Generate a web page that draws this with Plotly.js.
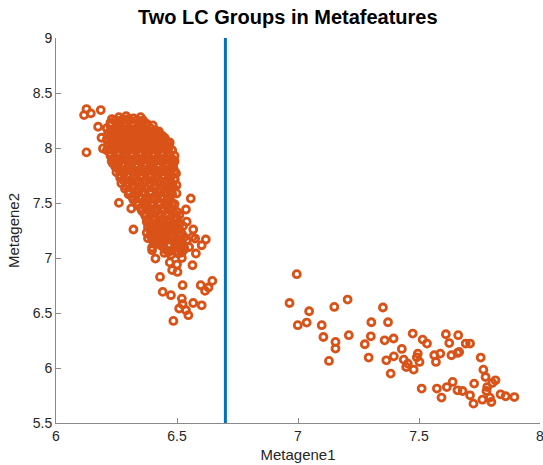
<!DOCTYPE html>
<html>
<head>
<meta charset="utf-8">
<script src="https://cdn.plot.ly/plotly-3.0.1.min.js"></script>
<style>html,body{margin:0;padding:0;background:#fff;}#chart{width:543px;height:465px;}</style>
</head>
<body>
<div id="chart"></div>
<script>
// Group 1 (left cluster): Metagene1 values
const group1X = [
6.26,6.29,6.32,6.35,
6.225,6.255,6.285,6.315,6.345,6.375,
6.21,6.24,6.27,6.30,6.33,6.36,6.39,6.41,
6.215,6.245,6.275,6.305,6.335,6.365,6.395,6.425,6.44,
6.21,6.24,6.27,6.30,6.33,6.36,6.39,6.42,6.45,
6.215,6.245,6.275,6.305,6.335,6.365,6.395,6.425,6.455,6.47,
6.21,6.24,6.27,6.30,6.33,6.36,6.39,6.42,6.45,6.48,
6.225,6.255,6.285,6.315,6.345,6.375,6.405,6.435,6.465,6.49,
6.23,6.26,6.29,6.32,6.35,6.38,6.41,6.44,6.47,6.49,
6.245,6.275,6.305,6.335,6.365,6.395,6.425,6.455,6.485,
6.25,6.28,6.31,6.34,6.37,6.40,6.43,6.46,6.49,
6.265,6.295,6.325,6.355,6.385,6.415,6.445,6.475,6.49,
6.27,6.30,6.33,6.36,6.39,6.42,6.45,6.48,
6.285,6.315,6.345,6.375,6.405,6.435,6.465,6.485,
6.30,6.33,6.36,6.39,6.42,6.45,6.48,
6.32,6.35,6.38,6.41,6.44,6.47,
6.34,6.37,6.40,6.43,6.46,6.49,
6.355,6.385,6.415,6.445,6.475,6.50,
6.37,6.40,6.43,6.46,6.49,6.51,
6.375,6.405,6.435,6.465,6.495,
6.38,6.41,6.44,6.47,6.50,6.525,
6.375,6.405,6.435,6.465,6.495,6.52,
6.38,6.41,6.44,6.47,6.50,6.53,
6.405,6.435,6.465,6.495,6.525,
6.45,6.48,6.51,6.53,
6.475,6.505,
6.126,6.116,6.144,6.185,6.174,6.231,6.297,6.188,6.126,6.194,6.235,
6.260,6.311,6.320,6.557,6.537,6.496,6.498,6.498,6.567,6.619,6.575,
6.397,6.397,6.485,6.397,6.411,6.448,6.564,6.602,6.578,6.502,6.564,
6.430,6.523,6.598,6.646,6.630,6.616,6.441,6.475,6.520,6.523,6.567,
6.602,6.537,6.547,6.485,6.509,
6.54,6.53,6.52,6.47,6.50,6.48,6.43,6.54,6.55,6.475,6.49,6.468
];
// Group 1 (left cluster): Metagene2 values
const group1Y = [
8.28,8.29,8.27,8.28,
8.23,8.24,8.22,8.23,8.24,8.22,
8.18,8.17,8.19,8.18,8.17,8.19,8.18,8.16,
8.13,8.14,8.12,8.13,8.14,8.12,8.13,8.14,8.11,
8.08,8.07,8.09,8.08,8.07,8.09,8.08,8.07,8.09,
8.03,8.04,8.02,8.03,8.04,8.02,8.03,8.04,8.02,8.05,
7.98,7.97,7.99,7.98,7.97,7.99,7.98,7.97,7.99,7.98,
7.93,7.94,7.92,7.93,7.94,7.92,7.93,7.94,7.92,7.93,
7.88,7.87,7.89,7.88,7.87,7.89,7.88,7.87,7.89,7.88,
7.83,7.84,7.82,7.83,7.84,7.82,7.83,7.84,7.82,
7.78,7.77,7.79,7.78,7.77,7.79,7.78,7.77,7.79,
7.73,7.74,7.72,7.73,7.74,7.72,7.73,7.74,7.72,
7.68,7.67,7.69,7.68,7.67,7.69,7.68,7.67,
7.63,7.64,7.62,7.63,7.64,7.62,7.63,7.64,
7.58,7.57,7.59,7.58,7.57,7.59,7.58,
7.53,7.54,7.52,7.53,7.54,7.52,
7.48,7.47,7.49,7.48,7.47,7.49,
7.43,7.44,7.42,7.43,7.44,7.42,
7.38,7.37,7.39,7.38,7.37,7.39,
7.33,7.34,7.32,7.33,7.34,
7.28,7.27,7.29,7.28,7.27,7.29,
7.23,7.24,7.22,7.23,7.24,7.22,
7.18,7.17,7.19,7.18,7.17,7.19,
7.13,7.14,7.12,7.13,7.12,
7.08,7.07,7.09,7.08,
7.03,7.04,
8.354,8.299,8.315,8.345,8.193,8.263,8.263,8.093,7.960,7.996,7.860,
7.501,7.450,7.259,7.541,7.441,7.769,7.662,7.587,7.259,7.168,7.177,
7.168,7.096,7.860,7.071,6.995,7.046,7.192,7.116,7.041,6.873,6.934,
6.828,6.753,6.753,6.792,6.732,6.701,6.692,6.662,6.631,6.580,6.591,
6.570,6.525,6.480,6.428,6.541,
7.16,7.09,7.00,6.96,6.94,6.89,7.12,7.33,7.10,7.89,7.71,8.04
];
// Group 1 dense core, in-between points (Metagene1)
const group1CoreX = [
6.245,6.275,6.305,6.335,6.36,
6.225,6.255,6.285,6.315,6.345,6.375,6.40,
6.225,6.255,6.285,6.315,6.345,6.375,6.405,6.425,
6.225,6.255,6.285,6.315,6.345,6.375,6.405,6.435,
6.225,6.255,6.285,6.315,6.345,6.375,6.405,6.435,6.46,
6.225,6.255,6.285,6.315,6.345,6.375,6.405,6.435,6.465,
6.225,6.255,6.285,6.315,6.345,6.375,6.405,6.435,6.465,
6.24,6.27,6.30,6.33,6.36,6.39,6.42,6.45,6.48,
6.245,6.275,6.305,6.335,6.365,6.395,6.425,6.455,6.48,
6.26,6.29,6.32,6.35,6.38,6.41,6.44,6.47,
6.265,6.295,6.325,6.355,6.385,6.415,6.445,6.475,
6.28,6.31,6.34,6.37,6.40,6.43,6.46,
6.29,6.32,6.35,6.38,6.41,6.44,6.47,
6.30,6.33,6.36,6.39,6.42,6.45,6.47,
6.315,6.345,6.375,6.405,6.435,6.465,
6.335,6.365,6.395,6.425,6.455,6.48,
6.35,6.38,6.41,6.44,6.47,
6.365,6.395,6.425,6.455,6.485,
6.38,6.41,6.44,6.47,6.50,
6.39,6.42,6.45,6.48,6.51,
6.39,6.42,6.45,6.48,6.51,
6.39,6.42,6.45,6.48,6.51,
6.425,6.455,6.485,6.515,
6.44,6.47,6.50,6.525,
6.465,6.495,6.52
];
// Group 1 dense core, in-between points (Metagene2)
const group1CoreY = [
8.255,8.26,8.25,8.255,8.25,
8.205,8.21,8.20,8.205,8.21,8.20,8.205,
8.155,8.16,8.15,8.155,8.16,8.15,8.155,8.15,
8.105,8.11,8.10,8.105,8.11,8.10,8.105,8.11,
8.055,8.06,8.05,8.055,8.06,8.05,8.055,8.06,8.05,
8.005,8.01,8.00,8.005,8.01,8.00,8.005,8.01,8.00,
7.955,7.96,7.95,7.955,7.96,7.95,7.955,7.96,7.95,
7.905,7.91,7.90,7.905,7.91,7.90,7.905,7.91,7.90,
7.855,7.86,7.85,7.855,7.86,7.85,7.855,7.86,7.85,
7.805,7.81,7.80,7.805,7.81,7.80,7.805,7.81,
7.755,7.76,7.75,7.755,7.76,7.75,7.755,7.76,
7.705,7.71,7.70,7.705,7.71,7.70,7.705,
7.655,7.66,7.65,7.655,7.66,7.65,7.655,
7.605,7.61,7.60,7.605,7.61,7.60,7.605,
7.555,7.56,7.55,7.555,7.56,7.55,
7.505,7.51,7.50,7.505,7.51,7.50,
7.455,7.46,7.45,7.455,7.46,
7.405,7.41,7.40,7.405,7.41,
7.355,7.36,7.35,7.355,7.36,
7.305,7.31,7.30,7.305,7.31,
7.255,7.26,7.25,7.255,7.26,
7.205,7.21,7.20,7.205,7.21,
7.155,7.16,7.15,7.155,
7.105,7.11,7.10,7.105,
7.055,7.06,7.05
];
// Group 2 (right cluster): Metagene1 values
const group2X = [
6.995,6.965,7.046,6.999,7.036,7.150,7.205,7.098,7.105,7.155,7.155,7.210,7.128,
7.351,7.303,7.372,7.301,7.276,7.358,7.395,7.292,7.365,7.396,7.429,7.437,7.383,
7.447,7.474,7.515,7.533,7.478,7.495,7.502,7.491,7.611,7.662,7.625,7.693,7.711,
7.563,7.588,7.570,7.634,7.659,7.666,7.755,7.766,7.775,7.803,7.816,7.782,7.511,
7.574,7.593,7.615,7.639,7.659,7.680,7.711,7.728,7.725,7.762,7.793,7.799,7.779,
7.837,7.858,7.894,7.454
];
// Group 2 (right cluster): Metagene2 values
const group2Y = [
6.853,6.591,6.516,6.389,6.413,6.555,6.622,6.389,6.282,6.237,6.177,6.298,6.064,
6.550,6.416,6.416,6.288,6.216,6.252,6.268,6.095,6.070,6.106,6.173,6.076,5.949,
6.009,6.313,6.258,6.222,5.985,6.131,6.055,6.097,6.307,6.298,6.227,6.222,6.222,
6.116,6.131,6.055,6.116,6.137,6.146,6.095,5.985,5.918,5.864,5.888,5.827,5.813,
5.813,5.731,5.827,5.873,5.797,5.791,5.752,5.858,5.676,5.712,5.731,5.691,5.791,
5.761,5.743,5.736,6.040
];
// Separating line
const splitX = 6.7;
const yLimits = [5.5, 9];
const xLimits = [6, 8];
const tickX = [6, 6.5, 7, 7.5, 8];
const tickXText = ['6', '6.5', '7', '7.5', '8'];
const tickY = [5.5, 6, 6.5, 7, 7.5, 8, 8.5, 9];
const tickYText = ['5.5', '6', '6.5', '7', '7.5', '8', '8.5', '9'];

const orange = '#D95319';
const blue = '#0072BD';
const font = 'Liberation Sans, Arial, Helvetica, sans-serif';

const traces = [
  {
    x: group1X.concat(group1CoreX, group2X),
    y: group1Y.concat(group1CoreY, group2Y),
    type: 'scatter', mode: 'markers',
    marker: {symbol: 'circle-open', size: 7, color: orange, line: {color: orange, width: 2.8}},
    hoverinfo: 'skip', showlegend: false
  },
  {
    x: [splitX, splitX],
    y: yLimits,
    type: 'scatter', mode: 'lines',
    line: {color: blue, width: 3},
    hoverinfo: 'skip', showlegend: false
  }
];

const axisCommon = {
  showgrid: false, zeroline: false, showline: true,
  linecolor: '#8a8a8a', linewidth: 1, mirror: false,
  ticks: 'inside', ticklen: 5, tickwidth: 1, tickcolor: '#8a8a8a',
  tickfont: {family: font, size: 14, color: '#262626'},
  ticklabeloverflow: 'allow',
  fixedrange: true, automargin: false
};

const layout = {
  width: 543, height: 465,
  margin: {l: 56, r: 3, t: 38, b: 42, pad: 0},
  paper_bgcolor: '#fff', plot_bgcolor: '#fff',
  title: {
    text: '<b>Two LC Groups in Metafeatures</b>',
    font: {family: font, size: 20, color: '#000'},
    xref: 'container', x: 0.53, xanchor: 'center',
    yref: 'container', y: 0.963, yanchor: 'middle'
  },
  xaxis: Object.assign({}, axisCommon, {
    range: xLimits, tickvals: tickX, ticktext: tickXText,
    title: {text: 'Metagene1', font: {family: font, size: 15, color: '#262626'}, standoff: 6}
  }),
  yaxis: Object.assign({}, axisCommon, {
    range: yLimits, tickvals: tickY, ticktext: tickYText,
    title: {text: 'Metagene2', font: {family: font, size: 15, color: '#262626'}, standoff: 9}
  }),
  showlegend: false
};

Plotly.newPlot('chart', traces, layout, {staticPlot: true, displayModeBar: false});
</script>
</body>
</html>
